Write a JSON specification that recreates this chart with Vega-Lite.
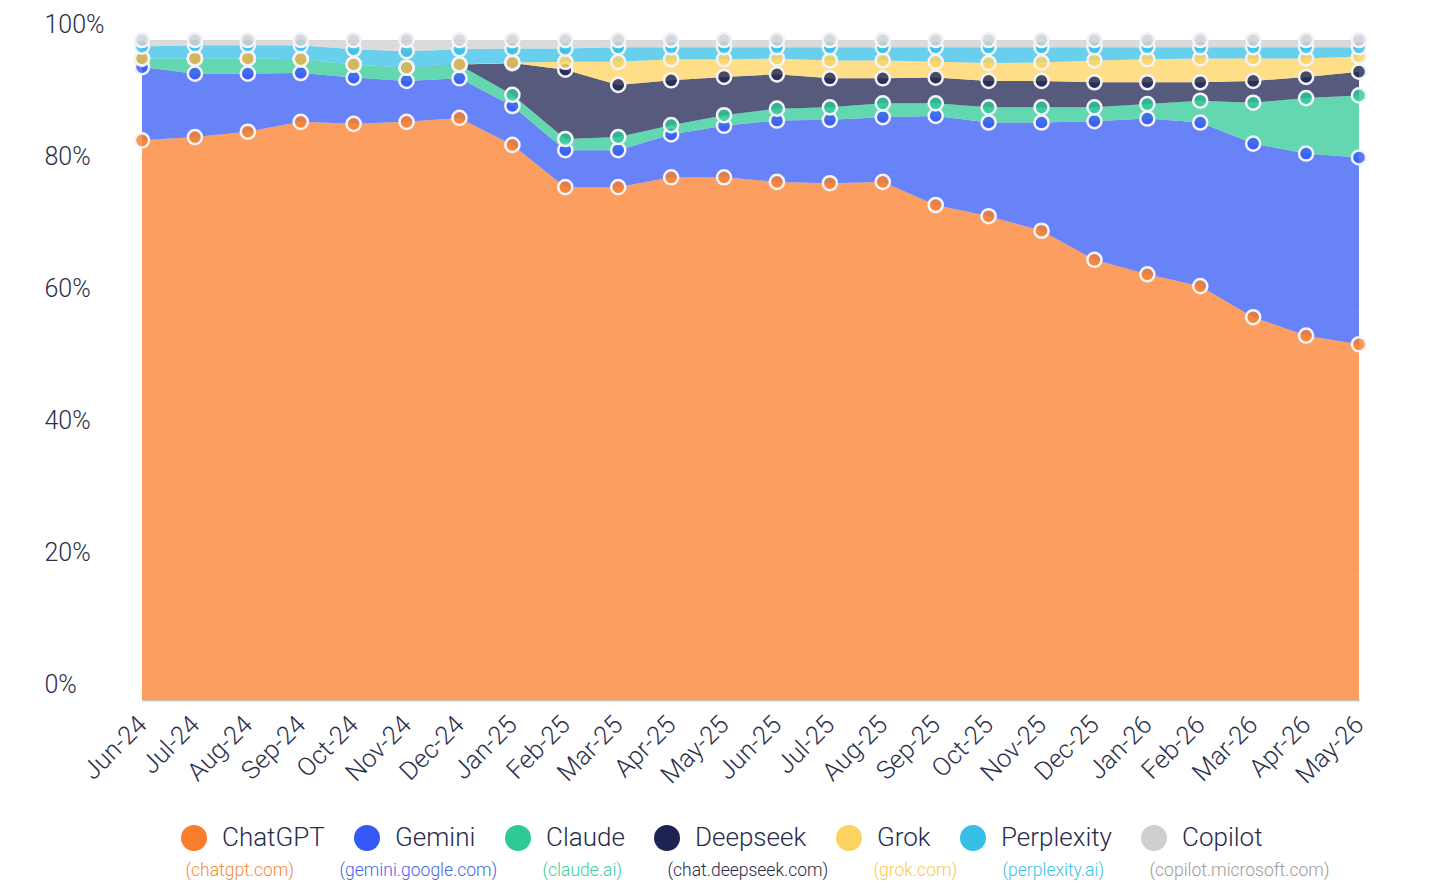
{
  "$schema": "https://vega.github.io/schema/vega-lite/v6.json",
  "description": "Share of AI chatbot web traffic by month, stacked to 100%.",
  "autosize": {"type": "none"},
  "width": 1342,
  "height": 660,
  "padding": {"left": 42, "top": 40, "right": 64, "bottom": 192},
  "background": "white",
  "datasets": {
    "sites": [
      {"s": "ChatGPT", "site": "(chatgpt.com)"},
      {"s": "Gemini", "site": "(gemini.google.com)"},
      {"s": "Claude", "site": "(claude.ai)"},
      {"s": "Deepseek", "site": "(chat.deepseek.com)"},
      {"s": "Grok", "site": "(grok.com)"},
      {"s": "Perplexity", "site": "(perplexity.ai)"},
      {"s": "Copilot", "site": "(copilot.microsoft.com)"}
    ]
  },
  "data": {
    "values": [
      {"m": "Jun-24", "s": "ChatGPT", "v": 84.8}, {"m": "Jun-24", "s": "Gemini", "v": 11.1}, {"m": "Jun-24", "s": "Claude", "v": 1.3}, {"m": "Jun-24", "s": "Deepseek", "v": 0}, {"m": "Jun-24", "s": "Grok", "v": 0}, {"m": "Jun-24", "s": "Perplexity", "v": 1.8}, {"m": "Jun-24", "s": "Copilot", "v": 1.0},
      {"m": "Jul-24", "s": "ChatGPT", "v": 85.3}, {"m": "Jul-24", "s": "Gemini", "v": 9.6}, {"m": "Jul-24", "s": "Claude", "v": 2.3}, {"m": "Jul-24", "s": "Deepseek", "v": 0}, {"m": "Jul-24", "s": "Grok", "v": 0}, {"m": "Jul-24", "s": "Perplexity", "v": 2.0}, {"m": "Jul-24", "s": "Copilot", "v": 0.8},
      {"m": "Aug-24", "s": "ChatGPT", "v": 86.1}, {"m": "Aug-24", "s": "Gemini", "v": 8.8}, {"m": "Aug-24", "s": "Claude", "v": 2.3}, {"m": "Aug-24", "s": "Deepseek", "v": 0}, {"m": "Aug-24", "s": "Grok", "v": 0}, {"m": "Aug-24", "s": "Perplexity", "v": 2.0}, {"m": "Aug-24", "s": "Copilot", "v": 0.8},
      {"m": "Sep-24", "s": "ChatGPT", "v": 87.6}, {"m": "Sep-24", "s": "Gemini", "v": 7.4}, {"m": "Sep-24", "s": "Claude", "v": 2.1}, {"m": "Sep-24", "s": "Deepseek", "v": 0}, {"m": "Sep-24", "s": "Grok", "v": 0}, {"m": "Sep-24", "s": "Perplexity", "v": 2.1}, {"m": "Sep-24", "s": "Copilot", "v": 0.8},
      {"m": "Oct-24", "s": "ChatGPT", "v": 87.3}, {"m": "Oct-24", "s": "Gemini", "v": 7.0}, {"m": "Oct-24", "s": "Claude", "v": 2.0}, {"m": "Oct-24", "s": "Deepseek", "v": 0}, {"m": "Oct-24", "s": "Grok", "v": 0}, {"m": "Oct-24", "s": "Perplexity", "v": 2.3}, {"m": "Oct-24", "s": "Copilot", "v": 1.4},
      {"m": "Nov-24", "s": "ChatGPT", "v": 87.6}, {"m": "Nov-24", "s": "Gemini", "v": 6.2}, {"m": "Nov-24", "s": "Claude", "v": 2.0}, {"m": "Nov-24", "s": "Deepseek", "v": 0}, {"m": "Nov-24", "s": "Grok", "v": 0}, {"m": "Nov-24", "s": "Perplexity", "v": 2.5}, {"m": "Nov-24", "s": "Copilot", "v": 1.7},
      {"m": "Dec-24", "s": "ChatGPT", "v": 88.2}, {"m": "Dec-24", "s": "Gemini", "v": 6.0}, {"m": "Dec-24", "s": "Claude", "v": 2.0}, {"m": "Dec-24", "s": "Deepseek", "v": 0.1}, {"m": "Dec-24", "s": "Grok", "v": 0}, {"m": "Dec-24", "s": "Perplexity", "v": 2.3}, {"m": "Dec-24", "s": "Copilot", "v": 1.4},
      {"m": "Jan-25", "s": "ChatGPT", "v": 84.1}, {"m": "Jan-25", "s": "Gemini", "v": 5.9}, {"m": "Jan-25", "s": "Claude", "v": 1.7}, {"m": "Jan-25", "s": "Deepseek", "v": 4.8}, {"m": "Jan-25", "s": "Grok", "v": 0.1}, {"m": "Jan-25", "s": "Perplexity", "v": 2.1}, {"m": "Jan-25", "s": "Copilot", "v": 1.3},
      {"m": "Feb-25", "s": "ChatGPT", "v": 77.7}, {"m": "Feb-25", "s": "Gemini", "v": 5.6}, {"m": "Feb-25", "s": "Claude", "v": 1.7}, {"m": "Feb-25", "s": "Deepseek", "v": 10.5}, {"m": "Feb-25", "s": "Grok", "v": 1.2}, {"m": "Feb-25", "s": "Perplexity", "v": 2.0}, {"m": "Feb-25", "s": "Copilot", "v": 1.3},
      {"m": "Mar-25", "s": "ChatGPT", "v": 77.7}, {"m": "Mar-25", "s": "Gemini", "v": 5.6}, {"m": "Mar-25", "s": "Claude", "v": 2.0}, {"m": "Mar-25", "s": "Deepseek", "v": 7.9}, {"m": "Mar-25", "s": "Grok", "v": 3.5}, {"m": "Mar-25", "s": "Perplexity", "v": 2.2}, {"m": "Mar-25", "s": "Copilot", "v": 1.1},
      {"m": "Apr-25", "s": "ChatGPT", "v": 79.2}, {"m": "Apr-25", "s": "Gemini", "v": 6.5}, {"m": "Apr-25", "s": "Claude", "v": 1.4}, {"m": "Apr-25", "s": "Deepseek", "v": 6.8}, {"m": "Apr-25", "s": "Grok", "v": 3.2}, {"m": "Apr-25", "s": "Perplexity", "v": 1.8}, {"m": "Apr-25", "s": "Copilot", "v": 1.1},
      {"m": "May-25", "s": "ChatGPT", "v": 79.2}, {"m": "May-25", "s": "Gemini", "v": 7.8}, {"m": "May-25", "s": "Claude", "v": 1.6}, {"m": "May-25", "s": "Deepseek", "v": 5.8}, {"m": "May-25", "s": "Grok", "v": 2.7}, {"m": "May-25", "s": "Perplexity", "v": 1.8}, {"m": "May-25", "s": "Copilot", "v": 1.1},
      {"m": "Jun-25", "s": "ChatGPT", "v": 78.5}, {"m": "Jun-25", "s": "Gemini", "v": 9.3}, {"m": "Jun-25", "s": "Claude", "v": 1.8}, {"m": "Jun-25", "s": "Deepseek", "v": 5.2}, {"m": "Jun-25", "s": "Grok", "v": 2.4}, {"m": "Jun-25", "s": "Perplexity", "v": 1.7}, {"m": "Jun-25", "s": "Copilot", "v": 1.1},
      {"m": "Jul-25", "s": "ChatGPT", "v": 78.3}, {"m": "Jul-25", "s": "Gemini", "v": 9.6}, {"m": "Jul-25", "s": "Claude", "v": 1.9}, {"m": "Jul-25", "s": "Deepseek", "v": 4.4}, {"m": "Jul-25", "s": "Grok", "v": 2.7}, {"m": "Jul-25", "s": "Perplexity", "v": 2.0}, {"m": "Jul-25", "s": "Copilot", "v": 1.1},
      {"m": "Aug-25", "s": "ChatGPT", "v": 78.5}, {"m": "Aug-25", "s": "Gemini", "v": 9.8}, {"m": "Aug-25", "s": "Claude", "v": 2.1}, {"m": "Aug-25", "s": "Deepseek", "v": 3.8}, {"m": "Aug-25", "s": "Grok", "v": 2.7}, {"m": "Aug-25", "s": "Perplexity", "v": 2.0}, {"m": "Aug-25", "s": "Copilot", "v": 1.1},
      {"m": "Sep-25", "s": "ChatGPT", "v": 75.0}, {"m": "Sep-25", "s": "Gemini", "v": 13.5}, {"m": "Sep-25", "s": "Claude", "v": 1.9}, {"m": "Sep-25", "s": "Deepseek", "v": 3.9}, {"m": "Sep-25", "s": "Grok", "v": 2.4}, {"m": "Sep-25", "s": "Perplexity", "v": 2.2}, {"m": "Sep-25", "s": "Copilot", "v": 1.1},
      {"m": "Oct-25", "s": "ChatGPT", "v": 73.3}, {"m": "Oct-25", "s": "Gemini", "v": 14.2}, {"m": "Oct-25", "s": "Claude", "v": 2.3}, {"m": "Oct-25", "s": "Deepseek", "v": 4.0}, {"m": "Oct-25", "s": "Grok", "v": 2.7}, {"m": "Oct-25", "s": "Perplexity", "v": 2.4}, {"m": "Oct-25", "s": "Copilot", "v": 1.1},
      {"m": "Nov-25", "s": "ChatGPT", "v": 71.1}, {"m": "Nov-25", "s": "Gemini", "v": 16.4}, {"m": "Nov-25", "s": "Claude", "v": 2.3}, {"m": "Nov-25", "s": "Deepseek", "v": 4.0}, {"m": "Nov-25", "s": "Grok", "v": 2.8}, {"m": "Nov-25", "s": "Perplexity", "v": 2.3}, {"m": "Nov-25", "s": "Copilot", "v": 1.1},
      {"m": "Dec-25", "s": "ChatGPT", "v": 66.7}, {"m": "Dec-25", "s": "Gemini", "v": 21.0}, {"m": "Dec-25", "s": "Claude", "v": 2.1}, {"m": "Dec-25", "s": "Deepseek", "v": 3.8}, {"m": "Dec-25", "s": "Grok", "v": 3.3}, {"m": "Dec-25", "s": "Perplexity", "v": 2.0}, {"m": "Dec-25", "s": "Copilot", "v": 1.1},
      {"m": "Jan-26", "s": "ChatGPT", "v": 64.5}, {"m": "Jan-26", "s": "Gemini", "v": 23.6}, {"m": "Jan-26", "s": "Claude", "v": 2.2}, {"m": "Jan-26", "s": "Deepseek", "v": 3.3}, {"m": "Jan-26", "s": "Grok", "v": 3.5}, {"m": "Jan-26", "s": "Perplexity", "v": 1.8}, {"m": "Jan-26", "s": "Copilot", "v": 1.1},
      {"m": "Feb-26", "s": "ChatGPT", "v": 62.7}, {"m": "Feb-26", "s": "Gemini", "v": 24.8}, {"m": "Feb-26", "s": "Claude", "v": 3.3}, {"m": "Feb-26", "s": "Deepseek", "v": 2.8}, {"m": "Feb-26", "s": "Grok", "v": 3.6}, {"m": "Feb-26", "s": "Perplexity", "v": 1.7}, {"m": "Feb-26", "s": "Copilot", "v": 1.1},
      {"m": "Mar-26", "s": "ChatGPT", "v": 58.0}, {"m": "Mar-26", "s": "Gemini", "v": 26.3}, {"m": "Mar-26", "s": "Claude", "v": 6.2}, {"m": "Mar-26", "s": "Deepseek", "v": 3.3}, {"m": "Mar-26", "s": "Grok", "v": 3.4}, {"m": "Mar-26", "s": "Perplexity", "v": 1.7}, {"m": "Mar-26", "s": "Copilot", "v": 1.1},
      {"m": "Apr-26", "s": "ChatGPT", "v": 55.2}, {"m": "Apr-26", "s": "Gemini", "v": 27.6}, {"m": "Apr-26", "s": "Claude", "v": 8.4}, {"m": "Apr-26", "s": "Deepseek", "v": 3.2}, {"m": "Apr-26", "s": "Grok", "v": 2.8}, {"m": "Apr-26", "s": "Perplexity", "v": 1.7}, {"m": "Apr-26", "s": "Copilot", "v": 1.1},
      {"m": "May-26", "s": "ChatGPT", "v": 53.9}, {"m": "May-26", "s": "Gemini", "v": 28.3}, {"m": "May-26", "s": "Claude", "v": 9.4}, {"m": "May-26", "s": "Deepseek", "v": 3.6}, {"m": "May-26", "s": "Grok", "v": 2.3}, {"m": "May-26", "s": "Perplexity", "v": 1.4}, {"m": "May-26", "s": "Copilot", "v": 1.1}
    ]
  },
  "transform": [
    {"calculate": "indexof(['ChatGPT','Gemini','Claude','Deepseek','Grok','Perplexity','Copilot'], datum.s)", "as": "k"},
    {"lookup": "s", "from": {"data": {"name": "sites"}, "key": "s", "fields": ["site"]}}
  ],
  "encoding": {
    "x": {
      "field": "m",
      "type": "ordinal",
      "sort": ["Jun-24", "Jul-24", "Aug-24", "Sep-24", "Oct-24", "Nov-24", "Dec-24", "Jan-25", "Feb-25", "Mar-25", "Apr-25", "May-25", "Jun-25", "Jul-25", "Aug-25", "Sep-25", "Oct-25", "Nov-25", "Dec-25", "Jan-26", "Feb-26", "Mar-26", "Apr-26", "May-26"],
      "scale": {"type": "point", "padding": 0, "range": [100, 1317]},
      "axis": {
        "title": null,
        "grid": false,
        "ticks": false,
        "tickSize": 0,
        "domainColor": "#C9C9C9",
        "domainWidth": 2,
        "labelAngle": -45,
        "labelAlign": "right",
        "labelBaseline": "middle",
        "labelPadding": 20,
        "labelFont": "Roboto",
        "labelFontWeight": 300,
        "labelFontSize": 25.5,
        "labelColor": "#2B2F4C",
        "labelOverlap": false
      }
    },
    "y": {
      "field": "v",
      "type": "quantitative",
      "stack": "zero",
      "scale": {"domain": [0, 100], "nice": false},
      "axis": {
        "title": null,
        "values": [0, 20, 40, 60, 80, 100],
        "labelExpr": "datum.value + '%'",
        "domain": false,
        "ticks": false,
        "tickSize": 0,
        "grid": true,
        "gridColor": "#EFEFEF",
        "labelAlign": "left",
        "labelBaseline": "alphabetic",
        "labelPadding": -2,
        "labelOffset": -8,
        "labelFlush": false,
        "labelOverlap": false,
        "labelFont": "Roboto",
        "labelFontWeight": 300,
        "labelFontSize": 25,
        "labelColor": "#2B2F4C"
      }
    },
    "color": {
      "field": "s",
      "type": "nominal",
      "scale": {
        "domain": ["ChatGPT", "Gemini", "Claude", "Deepseek", "Grok", "Perplexity", "Copilot"],
        "range": ["#F97E2B", "#3558F6", "#2DC996", "#1E2452", "#FDD35F", "#35BFE7", "#CFCFCF"]
      },
      "legend": {
        "orient": "none",
        "legendX": 139,
        "legendY": 785,
        "direction": "horizontal",
        "columns": 7,
        "title": null,
        "padding": 0,
        "symbolType": "circle",
        "symbolSize": 676,
        "symbolStrokeWidth": 0,
        "symbolOpacity": 1,
        "labelOffset": 15,
        "columnPadding": 29,
        "labelLimit": 0,
        "labelFont": "Roboto",
        "labelFontWeight": 300,
        "labelFontSize": 26,
        "labelColor": "#262B4A"
      }
    },
    "order": {"field": "k", "type": "quantitative"}
  },
  "layer": [
    {
      "mark": {"type": "area", "opacity": 0.75, "interpolate": "linear"}
    },
    {
      "mark": {"type": "point", "filled": true, "size": 200, "fillOpacity": 0.8, "stroke": "#F3F3FA", "strokeWidth": 2.5, "strokeOpacity": 1},
      "encoding": {
        "shape": {
          "field": "site",
          "type": "nominal",
          "scale": {
            "domain": ["(chatgpt.com)", "(gemini.google.com)", "(claude.ai)", "(chat.deepseek.com)", "(grok.com)", "(perplexity.ai)", "(copilot.microsoft.com)"],
            "range": ["circle", "circle", "circle", "circle", "circle", "circle", "circle"]
          },
          "legend": {
            "orient": "none",
            "legendX": 126,
            "legendY": 822,
            "direction": "horizontal",
            "columns": 7,
            "title": null,
            "padding": 0,
            "symbolSize": 0,
            "symbolOpacity": 0,
            "symbolStrokeWidth": 0,
            "labelOffset": 0,
            "columnPadding": 27,
            "labelLimit": 0,
            "labelFont": "Roboto",
            "labelFontWeight": 300,
            "labelFontSize": 17.5,
            "labelColor": {"expr": "datum.value === '(chatgpt.com)' ? '#F5893A' : datum.value === '(gemini.google.com)' ? '#4466EE' : datum.value === '(claude.ai)' ? '#3ECDA3' : datum.value === '(chat.deepseek.com)' ? '#262B4A' : datum.value === '(grok.com)' ? '#F9C94A' : datum.value === '(perplexity.ai)' ? '#3DC2E8' : '#9A9A9A'"}
          }
        }
      }
    }
  ],
  "config": {
    "view": {"stroke": null}
  }
}
